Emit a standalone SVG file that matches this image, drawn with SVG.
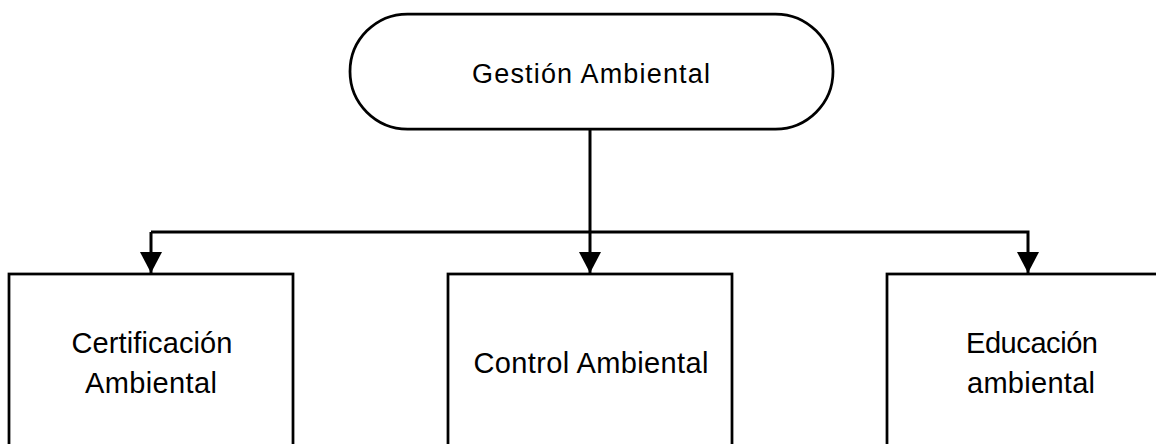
<svg xmlns="http://www.w3.org/2000/svg" width="1156" height="444" viewBox="0 0 1156 444">
  <defs>
    <marker id="arrow" markerUnits="userSpaceOnUse" markerWidth="22" markerHeight="22" viewBox="0 0 22 22" refX="21" refY="11" orient="auto">
      <path d="M0,0 L21,11 L0,22 Z" fill="#000"/>
    </marker>
  </defs>
  <style>
    .shape { fill: #fff; stroke: #000; stroke-width: 2.75; }
    .conn { fill: none; stroke: #000; stroke-width: 3; }
    .lbl { font-family: "Liberation Sans", Arial, sans-serif; fill: #000; text-anchor: middle; }
  </style>
  <rect width="1156" height="444" fill="#fff"/>
  <g id="connectors">
    <line class="conn" x1="590" y1="129" x2="590" y2="273" marker-end="url(#arrow)"/>
    <polyline class="conn" points="151,232 1028,232 1028,273" marker-end="url(#arrow)"/>
    <line class="conn" x1="151" y1="232" x2="151" y2="273" marker-end="url(#arrow)"/>
  </g>
  <g id="gestion">
    <rect class="shape" x="350" y="14" width="483" height="115" rx="57.5" ry="57.5"/>
    <text class="lbl" x="591" y="83" font-size="27" textLength="238" lengthAdjust="spacing">Gestión Ambiental</text>
  </g>
  <g id="certificacion">
    <rect class="shape" x="9" y="274" width="284" height="190"/>
    <text class="lbl" x="152" y="353" font-size="29" textLength="161" lengthAdjust="spacing">Certificación</text>
    <text class="lbl" x="151" y="393" font-size="29" textLength="132" lengthAdjust="spacing">Ambiental</text>
  </g>
  <g id="control">
    <rect class="shape" x="448" y="274" width="284" height="190"/>
    <text class="lbl" x="591" y="373" font-size="29" textLength="235" lengthAdjust="spacing">Control Ambiental</text>
  </g>
  <g id="educacion">
    <rect class="shape" x="887" y="274" width="284" height="190"/>
    <text class="lbl" x="1032" y="353" font-size="29" textLength="132" lengthAdjust="spacing">Educación</text>
    <text class="lbl" x="1031" y="393" font-size="29" textLength="128" lengthAdjust="spacing">ambiental</text>
  </g>
</svg>
